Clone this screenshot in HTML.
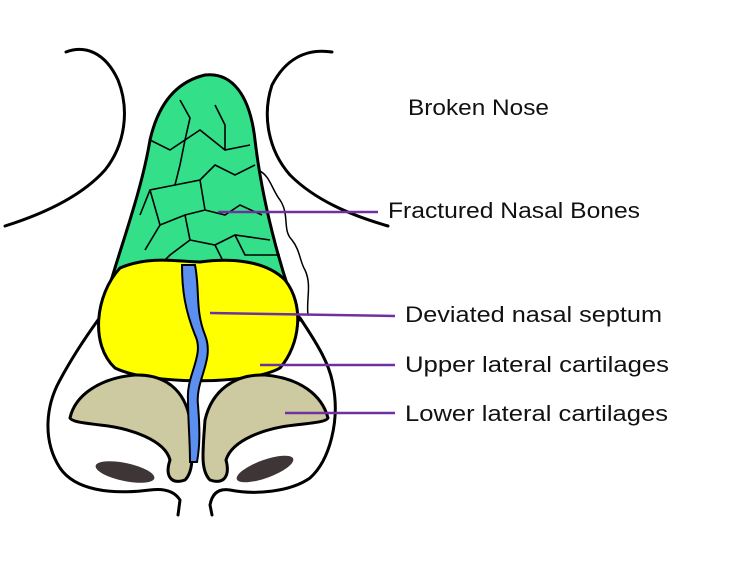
<!DOCTYPE html>
<html><head><meta charset="utf-8"><style>
html,body{margin:0;padding:0;background:#fff;}
svg{display:block;}
text{font-family:"Liberation Sans",sans-serif;font-size:22px;fill:#111;}
</style></head><body>
<svg width="736" height="561" viewBox="0 0 736 561" xmlns="http://www.w3.org/2000/svg">
<g fill="none" stroke="#000" stroke-width="3" stroke-linecap="round" stroke-linejoin="round">
<path d="M66 52 C85 45 105 52 118 80 C130 110 125 145 105 170 C80 198 40 215 5 226"/>
<path d="M332 52 C305 48 285 60 272 85 C262 115 268 150 290 175 C315 200 350 215 388 226"/>
<path d="M258 170 C270 175 272 190 280 200 C290 215 282 230 292 240 C300 250 300 262 305 270 C312 285 306 300 308 315" stroke-width="1.5"/>
<path d="M98 320 C80 345 68 365 60 380 C46 405 42 440 60 468 C75 490 110 495 150 490 C165 488 175 492 180 500 L178 515"/>
<path d="M300 318 C318 345 330 365 333 385 C340 420 330 460 310 478 C290 492 255 495 230 490 C218 488 212 494 210 505 L212 515"/>
</g>
<path d="M100 320 C115 260 140 200 150 140 C158 105 175 82 205 75 C232 72 250 95 255 140 C262 200 280 270 300 320 Z" fill="#33e089" stroke="#000" stroke-width="3"/>
<g fill="none" stroke="#000" stroke-width="1.6">
<path d="M150 140 L170 150 L185 140 L180 165 L175 185 L150 190 L140 215"/>
<path d="M185 140 L200 130 L225 150 L250 145"/>
<path d="M175 185 L200 180 L215 165 L235 175 L255 165"/>
<path d="M200 180 L205 210 L225 215 L240 205 L262 215"/>
<path d="M150 190 L160 225 L145 250"/>
<path d="M160 225 L185 215 L205 210"/>
<path d="M185 215 L190 240 L215 245 L235 235 L270 240"/>
<path d="M190 240 L170 255 L160 265"/>
<path d="M215 245 L225 265"/>
<path d="M235 235 L245 255 L280 255"/>
<path d="M180 100 L190 118 L185 140"/>
<path d="M215 105 L225 125 L225 150"/>
</g>
<path d="M120 268 C150 255 180 262 200 262 C230 258 265 260 285 280 C305 305 300 345 280 368 C250 385 150 385 115 368 C90 345 95 295 120 268 Z" fill="#ffff00" stroke="#000" stroke-width="3"/>
<path d="M70 418 C75 395 100 378 135 375 C165 374 185 390 190 420 C192 450 195 470 185 480 C170 485 165 475 170 460 C165 440 130 428 100 425 C85 423 72 422 70 418 Z" fill="#cdc9a0" stroke="#000" stroke-width="3"/>
<path d="M328 418 C322 395 300 378 265 375 C235 374 212 390 205 420 C203 450 200 470 210 480 C225 485 230 475 226 460 C232 440 265 428 295 425 C312 423 326 422 328 418 Z" fill="#cdc9a0" stroke="#000" stroke-width="3"/>
<path d="M182 265 L195 265 C200 290 195 310 205 335 C215 360 195 380 198 405 C200 430 200 445 197 462 L190 462 C190 440 188 420 188 400 C186 375 205 355 195 335 C185 310 182 290 182 265 Z" fill="#5b8ff0" stroke="#000" stroke-width="2"/>
<ellipse cx="125" cy="472" rx="30" ry="9" transform="rotate(12 125 472)" fill="#3e3636"/>
<ellipse cx="265" cy="469" rx="30" ry="9" transform="rotate(-20 265 469)" fill="#3e3636"/>
<g stroke="#7030a0" stroke-width="2.5">
<line x1="218" y1="212" x2="378" y2="212"/>
<line x1="210" y1="313" x2="395" y2="316"/>
<line x1="260" y1="365" x2="395" y2="365"/>
<line x1="285" y1="413" x2="395" y2="413"/>
</g>
<text x="408" y="115" textLength="141" lengthAdjust="spacingAndGlyphs">Broken Nose</text>
<text x="388" y="218" textLength="252" lengthAdjust="spacingAndGlyphs">Fractured Nasal Bones</text>
<text x="405" y="322" textLength="257" lengthAdjust="spacingAndGlyphs">Deviated nasal septum</text>
<text x="405" y="372" textLength="264" lengthAdjust="spacingAndGlyphs">Upper lateral cartilages</text>
<text x="405" y="421" textLength="263" lengthAdjust="spacingAndGlyphs">Lower lateral cartilages</text>
</svg>
</body></html>
